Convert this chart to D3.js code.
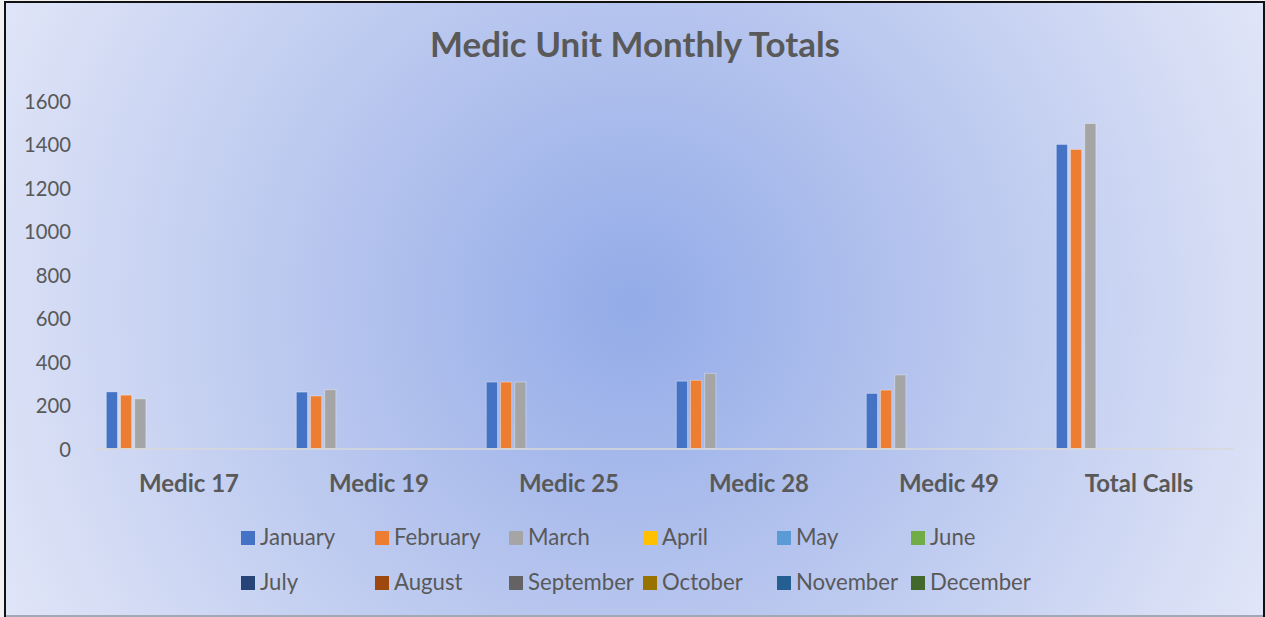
<!DOCTYPE html>
<html>
<head>
<meta charset="utf-8">
<script src="https://cdn.jsdelivr.net/npm/d3@7"></script>
<style>
  html, body { margin: 0; padding: 0; background: #f2f2f2; }
  svg { display: block; }
</style>
</head>
<body>
<svg id="chart" width="1265" height="617"></svg>
<script>
// ---- data ----
const chartTitle = "Medic Unit Monthly Totals";
const categories = ["Medic 17", "Medic 19", "Medic 25", "Medic 28", "Medic 49", "Total Calls"];
const months = ["January", "February", "March", "April", "May", "June",
                "July", "August", "September", "October", "November", "December"];
const january  = [260, 259, 305, 309, 253, 1396];
const february = [245, 241, 305, 313, 268, 1373];
const march    = [228, 270, 305, 345, 338, 1492];
const april    = [null, null, null, null, null, null];
const may      = [null, null, null, null, null, null];
const june     = [null, null, null, null, null, null];
const july     = [null, null, null, null, null, null];
const august   = [null, null, null, null, null, null];
const september= [null, null, null, null, null, null];
const october  = [null, null, null, null, null, null];
const november = [null, null, null, null, null, null];
const december = [null, null, null, null, null, null];
const yTicks = [0, 200, 400, 600, 800, 1000, 1200, 1400, 1600];
const monthColors = ["#4472C4", "#ED7D31", "#A5A5A5", "#FFC000", "#5B9BD5", "#70AD47",
                     "#264478", "#9E480E", "#636363", "#997300", "#255E91", "#43682B"];

const seriesValues = [january, february, march, april, may, june,
                      july, august, september, october, november, december];
const series = months.map((m, i) => ({ name: m, color: monthColors[i], values: seriesValues[i] }));

// ---- layout ----
const W = 1265, H = 617;
const FONT = "Lato, 'Open Sans', 'Liberation Sans', sans-serif";
const TEXT = "#595959";
const svg = d3.select("#chart");

const defs = svg.append("defs");
const grad = defs.append("radialGradient")
  .attr("id", "bg").attr("gradientUnits", "userSpaceOnUse")
  .attr("cx", 632).attr("cy", 305).attr("r", 700);
grad.append("stop").attr("offset", "0").attr("stop-color", "#93abe8");
grad.append("stop").attr("offset", "0.42").attr("stop-color", "#b5c4ee");
grad.append("stop").attr("offset", "0.87").attr("stop-color", "#d7def5");
grad.append("stop").attr("offset", "1").attr("stop-color", "#e0e5f8");

// outer page
svg.append("rect").attr("x", 0).attr("y", 0).attr("width", W).attr("height", H).attr("fill", "#f1f1f1");
// chart area
svg.append("rect").attr("x", 5).attr("y", 2).attr("width", 1258).attr("height", 613)
  .attr("fill", "url(#bg)");
// borders
svg.append("line").attr("x1", 5).attr("x2", 5).attr("y1", 1).attr("y2", 617).attr("stroke", "#111").attr("stroke-width", 2);
svg.append("line").attr("x1", 4).attr("x2", 1265).attr("y1", 2).attr("y2", 2).attr("stroke", "#111").attr("stroke-width", 2);
svg.append("line").attr("x1", 1264).attr("x2", 1264).attr("y1", 1).attr("y2", 617).attr("stroke", "#111").attr("stroke-width", 2);
svg.append("line").attr("x1", 6).attr("x2", 1263).attr("y1", 616).attr("y2", 616).attr("stroke", "#a3a8b8").attr("stroke-width", 2);

// helper to fit a font size to a target width for a reference string
function fitSize(str, weight, target, guess) {
  const t = svg.append("text").attr("font-family", FONT).attr("font-weight", weight)
    .attr("font-size", guess).text(str);
  const w = t.node().getComputedTextLength();
  t.remove();
  return guess * target / w;
}
const titleSize = fitSize(chartTitle, 700, 410, 34);
const tickSize = fitSize("1600", 400, 47, 22);
const catSize = fitSize("Medic 17", 700, 100, 24);
const legSize = fitSize("September", 400, 106, 22);

// scales
const y = d3.scaleLinear().domain([0, 1600]).range([448.5, 100]);
const x0 = d3.scaleBand().domain(categories).range([94, 1234]).paddingInner(0).paddingOuter(0);
const barStep = 14.2, barW = 11.2, groupOffset = 12.3;
const x1 = d3.scaleBand().domain(months)
  .range([groupOffset, groupOffset + 11 * barStep + barW])
  .paddingInner((barStep - barW) / barStep).paddingOuter(0);

// title
svg.append("text").attr("x", 635).attr("y", 57).attr("text-anchor", "middle")
  .attr("font-family", FONT).attr("font-weight", 700).attr("font-size", titleSize)
  .attr("fill", TEXT).text(chartTitle);

// y axis
const yAxis = svg.append("g").attr("transform", "translate(74,0)")
  .call(d3.axisLeft(y).tickValues(yTicks).tickSize(0).tickPadding(3).tickFormat(d3.format("d")));
yAxis.select(".domain").remove();
yAxis.selectAll("text").attr("font-family", FONT).attr("font-size", tickSize)
  .attr("fill", TEXT).attr("dy", null).attr("dominant-baseline", "central");

// bars
const groups = svg.append("g").selectAll("g").data(categories).join("g")
  .attr("transform", d => `translate(${x0(d)},0)`);
groups.selectAll("rect")
  .data((c, ci) => series.filter(s => s.values[ci] != null).map(s => ({ s, v: s.values[ci] })))
  .join("rect")
  .attr("x", d => x1(d.s.name))
  .attr("width", x1.bandwidth())
  .attr("y", d => y(d.v))
  .attr("height", d => y(0) - y(d.v))
  .attr("fill", d => d.s.color)
  .attr("stroke", "rgba(255,255,255,0.35)").attr("stroke-width", 1);

// x axis
const xAxis = svg.append("g").attr("transform", "translate(0,448.5)")
  .call(d3.axisBottom(x0).tickSize(0).tickSizeOuter(0));
xAxis.select(".domain").attr("stroke", "#d9d9d9").attr("stroke-width", 1.6);
xAxis.selectAll("text").attr("y", 43).attr("dy", null)
  .attr("font-family", FONT).attr("font-weight", 700).attr("font-size", catSize).attr("fill", TEXT);

// legend
const legCols = [241, 375, 509, 643, 777, 911];
const legRows = [545, 590];
const leg = svg.append("g").selectAll("g").data(series).join("g")
  .attr("transform", (d, i) => `translate(${legCols[i % 6]},${legRows[Math.floor(i / 6)]})`);
leg.append("rect").attr("x", 0).attr("y", -14).attr("width", 14).attr("height", 14)
  .attr("fill", d => d.color);
leg.append("text").attr("x", 19).attr("y", 0)
  .attr("font-family", FONT).attr("font-size", legSize).attr("fill", TEXT)
  .text(d => d.name);
</script>
</body>
</html>
